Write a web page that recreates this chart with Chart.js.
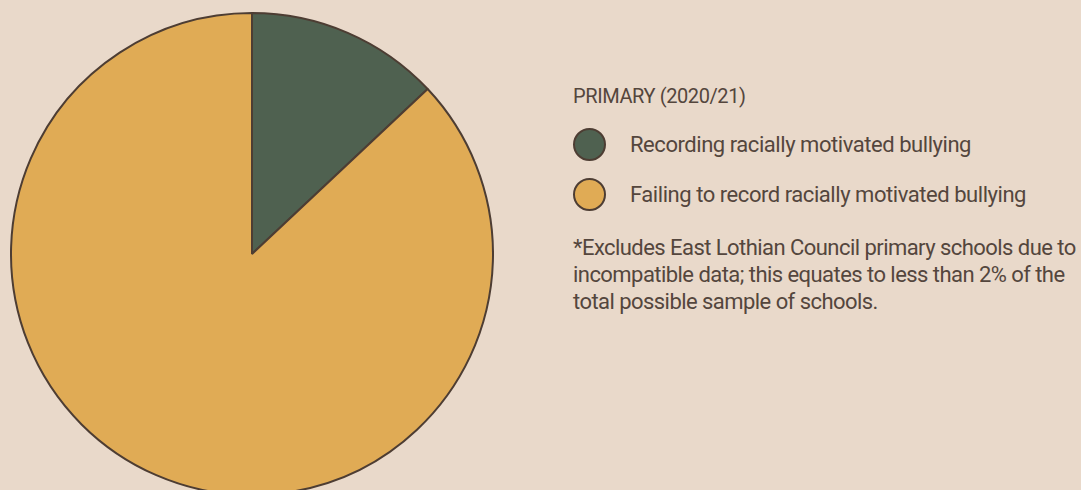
<!DOCTYPE html>
<html>
<head>
<meta charset="utf-8">
<script src="https://cdn.jsdelivr.net/npm/chart.js@4"></script>
<style>
    html, body {
        margin: 0;
        padding: 0;
        width: 1081px;
        height: 490px;
        overflow: hidden;
        background: #e9d9ca;
        font-family: Roboto, sans-serif;
        color: #54463d;
    }
    #pie-wrap {
        position: absolute;
        left: 10px;
        top: 12px;
        width: 484px;
        height: 484px;
    }
    #side {
        position: absolute;
        left: 573px;
        top: 84px;
        width: 508px;
        font-size: 22px;
        letter-spacing: -0.45px;
        white-space: nowrap;
    }
    .title { font-size: 20px; line-height: 24px; margin-bottom: 19px; letter-spacing: -0.4px; }
    .item { display: flex; align-items: center; height: 34px; margin-bottom: 16px; }
    .item span.txt { padding-top: 1px; }
    .dot {
        width: 33px; height: 33px; border-radius: 50%;
        border: 2px solid #4d3d33; box-sizing: border-box;
        margin-right: 24px; flex: none;
    }
    .note { line-height: 27px; margin-top: 23px; letter-spacing: -0.55px; }
</style>
</head>
<body>
<div id="pie-wrap"><canvas id="pie"></canvas></div>
<div id="side"></div>

<script>
// Данные
const title = 'PRIMARY (2020/21)';
const labels = ['Recording racially motivated bullying', 'Failing to record racially motivated bullying'];
const values = [13, 87];
const colors = ['#4f6150', '#e0ab55'];
const noteLines = [
    '*Excludes East Lothian Council primary schools due to',
    'incompatible data; this equates to less than 2% of the',
    'total possible sample of schools.'
];

// ===== ЛЕГЕНДА =====
const side = document.getElementById('side');
side.innerHTML = `<div class="title">${title}</div>` +
    labels.map((l, i) => `<div class="item"><span class="dot" style="background:${colors[i]}"></span><span class="txt">${l}</span></div>`).join('') +
    `<div class="note">${noteLines.join('<br>')}</div>`;

// ===== ГРАФИК =====
new Chart(document.getElementById('pie'), {
    type: 'pie',
    data: {
        labels: labels,
        datasets: [{
            data: values,
            backgroundColor: colors,
            borderColor: '#4d3d33',
            borderWidth: 2
        }]
    },
    options: {
        responsive: true,
        maintainAspectRatio: false,
        animation: false,
        layout: { padding: 0 },
        plugins: {
            legend: { display: false },
            tooltip: { enabled: false }
        }
    }
});
</script>
</body>
</html>
